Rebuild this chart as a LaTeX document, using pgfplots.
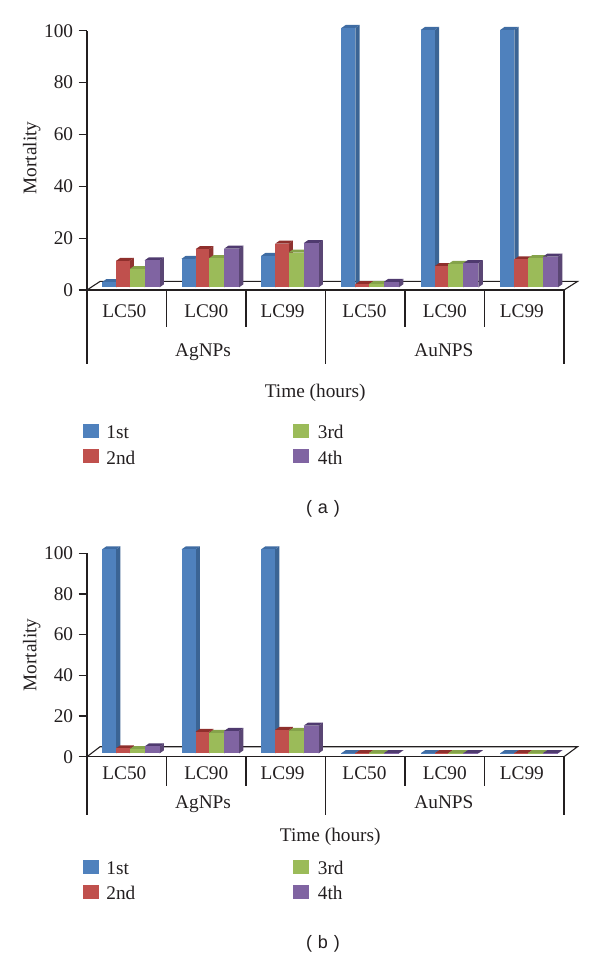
\documentclass[border=0pt]{standalone}
\usepackage{pgfplots}
\pgfplotsset{compat=1.18}
\usepackage{fontspec}
\setmainfont{Liberation Serif}
\newfontfamily\capfont{Liberation Sans}

\definecolor{inka}{HTML}{231F20}
\definecolor{blueF}{HTML}{4F81BD}\definecolor{blueS}{HTML}{3B6494}\definecolor{blueT}{HTML}{3F6CA3}
\definecolor{redF}{HTML}{C0504D}\definecolor{redS}{HTML}{8F3331}\definecolor{redT}{HTML}{8F2F2C}
\definecolor{greenF}{HTML}{9BBB59}\definecolor{greenS}{HTML}{76923C}\definecolor{greenT}{HTML}{85A34A}
\definecolor{purpleF}{HTML}{8064A2}\definecolor{purpleS}{HTML}{5A4674}\definecolor{purpleT}{HTML}{4F3A6F}

\newcommand{\chartfont}{\fontsize{19.3}{22}\selectfont}

% one bar with its side and top faces: start x, width, value, colour
\newcommand{\onebar}[4]{%
  \pgfmathsetmacro\xa{#1}\pgfmathsetmacro\xb{\xa+#2}\pgfmathsetmacro\xc{\xb+\bardx}\pgfmathsetmacro\xd{\xa+\bardx}%
  \pgfmathsetmacro\yt{\barbase+#3}\pgfmathsetmacro\yu{\yt+\bardy}\pgfmathsetmacro\yv{\barbase+\bardy}%
  \addplot[fill=#4S,draw=none,forget plot] coordinates {(\xb,\barbase)(\xc,\yv)(\xc,\yu)(\xb,\yt)} --cycle;
  \addplot[fill=#4T,draw=none,forget plot] coordinates {(\xa,\yt)(\xd,\yu)(\xc,\yu)(\xb,\yt)} --cycle;
  \addplot[fill=#4F,draw=none,forget plot] coordinates {(\xa,\barbase)(\xb,\barbase)(\xb,\yt)(\xa,\yt)} --cycle;
}
\newcommand{\bargroup}[5]{%
  \onebar{#1}{0.176}{#2}{blue}%
  \onebar{#1+0.176}{0.170}{#3}{red}%
  \onebar{#1+0.346}{0.189}{#4}{green}%
  \onebar{#1+0.535}{0.189}{#5}{purple}%
}
\newcommand{\catlines}{%
  \addplot[inka,line width=1.1pt,forget plot] coordinates {(0,0)(0,-28.6)};
  \addplot[inka,line width=1.1pt,forget plot] coordinates {(1,0)(1,-14.3)};
  \addplot[inka,line width=1.1pt,forget plot] coordinates {(2,0)(2,-14.3)};
  \addplot[inka,line width=1.1pt,forget plot] coordinates {(3,0)(3,-28.6)};
  \addplot[inka,line width=1.1pt,forget plot] coordinates {(4,0)(4,-14.3)};
  \addplot[inka,line width=1.1pt,forget plot] coordinates {(5,0)(5,-14.3)};
  \addplot[inka,line width=1.1pt,forget plot] coordinates {(6,0)(6,-28.6)};
}
\newcommand{\patch}[1]{\fill[#1] (0pt,-4.5pt) rectangle (14.7pt,8.5pt);}

\pgfplotsset{
  mortality/.style={
    anchor=origin, scale only axis, width=477pt, clip=false,
    xmin=0, xmax=6, ymin=0, ymax=100,
    axis x line*=bottom, axis y line*=left,
    axis line style={inka,line width=1.1pt,-},
    xtick={0.47,1.5,2.46,3.49,4.5,5.47},
    xticklabels={LC50,LC90,LC99,LC50,LC90,LC99},
    x tick style={draw=none},
    ytick={0,20,...,100},
    y tick style={inka,line width=1.1pt},
    tick align=outside, major tick length=8.4pt,
    /pgf/number format/assume math mode=true,
    tick label style={font=\chartfont,text=inka},
    yticklabel style={xshift=-2pt},
    label style={font=\chartfont,text=inka},
    xlabel={Time (hours)}, ylabel={Mortality},
    legend columns=2, transpose legend,
    legend cell align=left,
    legend style={
      draw=none, fill=none, inner sep=0pt, outer sep=0pt,
      anchor=north west, row sep=9pt,
      font=\chartfont,text=inka,
      /tikz/column 1/.style={column sep=8pt},
      /tikz/column 2/.style={column sep=158pt},
      /tikz/column 3/.style={column sep=9.5pt},
      nodes={inner sep=0pt,outer sep=0pt},
    },
  },
}

\begin{document}
\begin{tikzpicture}
\path[use as bounding box] (0pt,0pt) rectangle (600pt,958pt);

% (a)
\begin{axis}[mortality,
  at={(87pt,668pt)}, height=259.3pt,
  xticklabel style={anchor=center,yshift=-12.5pt},
  xlabel style={at={(axis cs:2.87,-39.8)},anchor=center},
  ylabel style={at={(axis description cs:-0.116,0.509)},anchor=center},
  legend style={at={(axis cs:-0.047,-51.8)}},
]
\addlegendimage{legend image code/.code={\patch{blueF}}}\addlegendentry{1st}
\addlegendimage{legend image code/.code={\patch{redF}}}\addlegendentry{2nd}
\addlegendimage{legend image code/.code={\patch{greenF}}}\addlegendentry{3rd}
\addlegendimage{legend image code/.code={\patch{purpleF}}}\addlegendentry{4th}
\addplot[inka,line width=1.1pt,forget plot] coordinates {(0,0)(0.164,3.3)(6.17,3.3)(6,0)};
\def\barbase{1.04}\def\bardx{0.054}\def\bardy{1.16}
\bargroup{0.19}{2}{10.2}{7}{10.4}
\bargroup{1.19}{11}{14.7}{11.2}{14.9}
\bargroup{2.19}{12.1}{16.8}{13.4}{17}
\bargroup{3.20}{100}{1.2}{1.2}{2.1}
\bargroup{4.20}{99.3}{8.2}{9}{9.3}
\bargroup{5.20}{99.3}{10.8}{11.2}{11.8}
\catlines
\node[font=\chartfont,text=inka,anchor=base] at (axis cs:1.46,-25.7) {AgNPs};
\node[font=\chartfont,text=inka,anchor=base] at (axis cs:4.49,-25.7) {AuNPS};
\end{axis}

% (b)
\begin{axis}[mortality,
  at={(87pt,201.3pt)}, height=203.4pt,
  xticklabel style={anchor=center,yshift=-8.5pt},
  xlabel style={at={(axis cs:3.06,-39.5)},anchor=center},
  ylabel style={at={(axis description cs:-0.116,0.5)},anchor=center},
  legend style={at={(axis cs:-0.047,-50.8)}},
]
\addlegendimage{legend image code/.code={\patch{blueF}}}\addlegendentry{1st}
\addlegendimage{legend image code/.code={\patch{redF}}}\addlegendentry{2nd}
\addlegendimage{legend image code/.code={\patch{greenF}}}\addlegendentry{3rd}
\addlegendimage{legend image code/.code={\patch{purpleF}}}\addlegendentry{4th}
\addplot[inka,line width=1.1pt,forget plot] coordinates {(0,0)(0.164,4.9)(6.17,4.9)(6,0)};
\def\barbase{1.65}\def\bardx{0.054}\def\bardy{1.47}
\bargroup{0.19}{100.3}{2.5}{2.1}{3.4}
\bargroup{1.19}{100.3}{10.6}{10.1}{11}
\bargroup{2.19}{100.3}{11.5}{11}{13.6}
\bargroup{3.20}{0.1}{0.1}{0.1}{0.1}
\bargroup{4.20}{0.1}{0.1}{0.1}{0.1}
\bargroup{5.20}{0.1}{0.1}{0.1}{0.1}
\catlines
\node[font=\chartfont,text=inka,anchor=base] at (axis cs:1.46,-25.4) {AgNPs};
\node[font=\chartfont,text=inka,anchor=base] at (axis cs:4.49,-25.4) {AuNPS};
\end{axis}

\node[font=\capfont\fontsize{18}{20}\selectfont,text=inka] at (323pt,449pt) {(\,\,a\,\,)};
\node[font=\capfont\fontsize{18}{20}\selectfont,text=inka] at (323pt,14pt) {(\,\,b\,\,)};
\end{tikzpicture}
\end{document}
